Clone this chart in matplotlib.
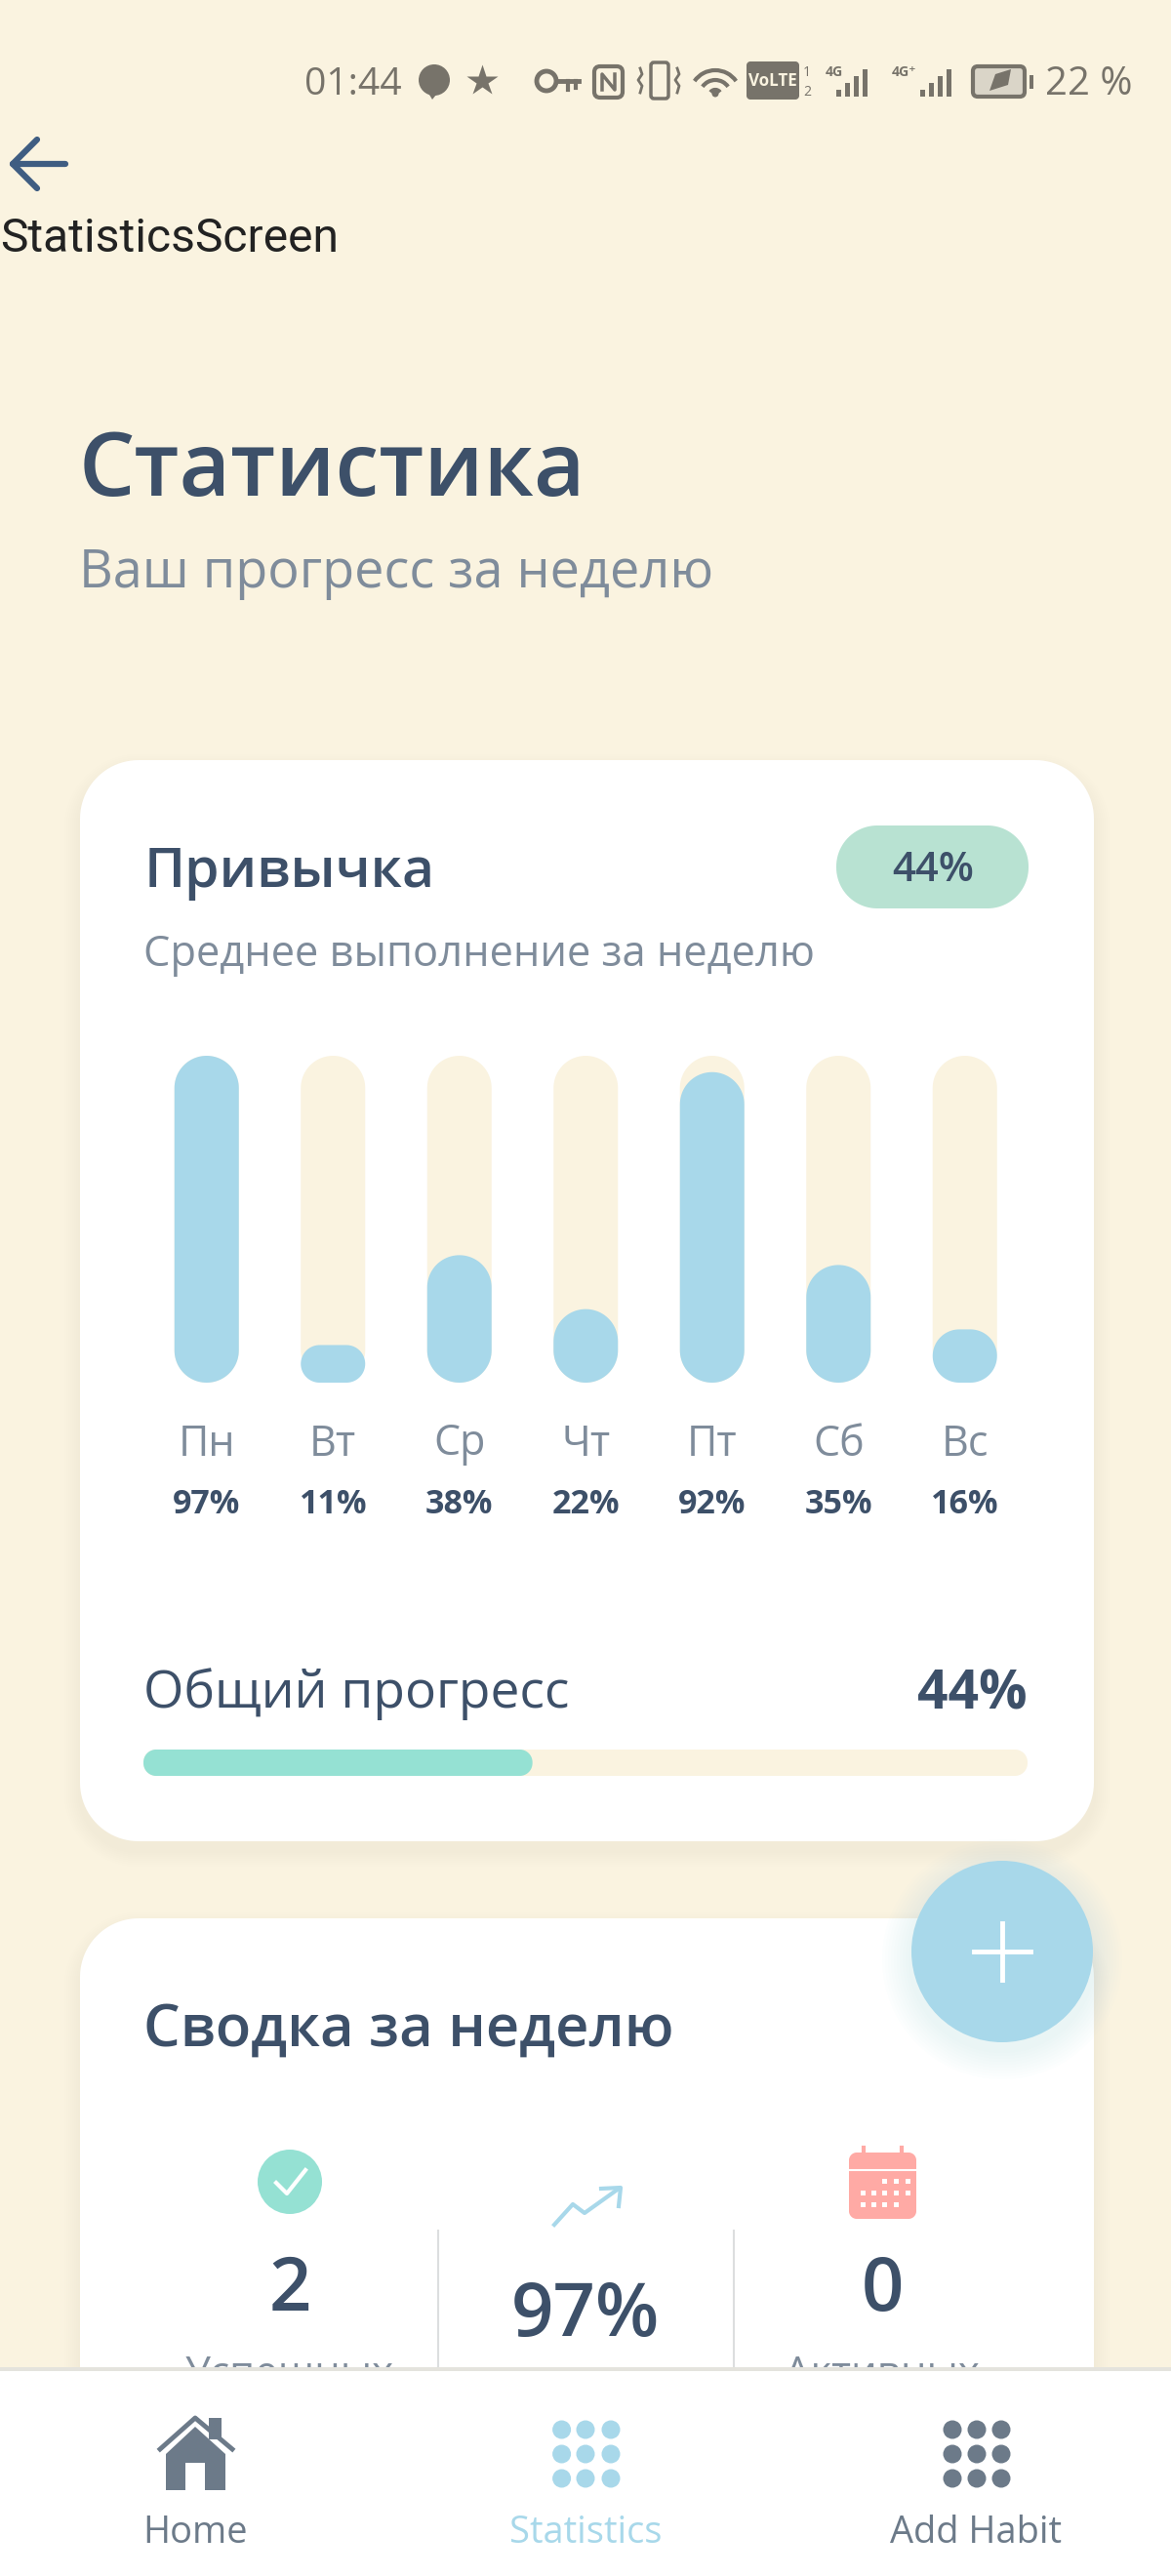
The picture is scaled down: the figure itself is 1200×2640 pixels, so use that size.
import matplotlib
matplotlib.use('Agg')
import matplotlib.pyplot as plt
import numpy as np
from matplotlib.patches import FancyBboxPatch, Circle, Rectangle, Polygon, Arc

# chart values
days = ['Пн', 'Вт', 'Ср', 'Чт', 'Пт', 'Сб', 'Вс']
day_labels = [97, 11, 38, 22, 92, 35, 16]
bar_heights = [100, 11.5, 39, 22.5, 95, 36, 16.3]  # the app scales the fill a bit, so these are measured
overall = 44
summary_values = ['2', '97%', '0']
summary_names = ['Успешных', '', 'Активных']
nav_names = ['Home', 'Statistics', 'Add Habit']

BG = '#FAF3E0'
BLUE = '#A8D8EA'
MINT = '#95E1D3'
PILL = '#B8E2D2'
DARK = '#3D5069'
GREY = '#7F8C9B'
ICON = '#6C7A89'
STATUS = '#77736A'
CORAL = '#FFAAA5'
W, H = 1200, 2640

plt.rcParams['font.family'] = ['Open Sans', 'DejaVu Sans']

fig = plt.figure(figsize=(12, 26.4), dpi=100, facecolor=BG)
ax = fig.add_axes([0, 0, 1, 1])
ax.set_xlim(0, W)
ax.set_ylim(H, 0)
ax.axis('off')


def px(size):
    return size * 0.72


# true circular corners, FancyBboxPatch's round style looks too square on the pills
def rbox(a, x0, y0, x1, y1, r, color, z=2, alpha=1, aspect=1):
    t = np.linspace(0, np.pi / 2, 24)
    ry = r * aspect
    xs = np.concatenate([x1 - r + r * np.cos(t), x0 + r - r * np.sin(t), x0 + r - r * np.cos(t), x1 - r + r * np.sin(t)])
    ys = np.concatenate([y1 - ry + ry * np.sin(t), y1 - ry + ry * np.cos(t), y0 + ry - ry * np.sin(t), y0 + ry - ry * np.cos(t)])
    p = Polygon(np.column_stack([xs, ys]), closed=True, fc=color, ec='none', alpha=alpha, zorder=z, clip_on=False)
    a.add_patch(p)
    return p


def label(x, y, s, size, color=DARK, weight='normal', ha='left', va='baseline', z=5):
    return ax.text(x, y, s, fontsize=px(size), color=color, fontweight=weight, ha=ha, va=va, zorder=z)


# status bar
label(312, 97, '01:44', 39, STATUS)
label(1071, 97, '22 %', 40, STATUS)
ax.add_patch(Circle((445, 82), 16, fc=STATUS, ec='none'))
ax.add_patch(Polygon([[437, 92], [451, 92], [443, 102]], fc=STATUS, ec='none'))
ax.plot([494], [83], marker='*', ms=24, color=STATUS, mec='none')
ax.add_patch(Circle((560, 83), 10, fc='none', ec=STATUS, lw=3.5))
ax.plot([570, 593], [83, 83], color=STATUS, lw=3.5)
ax.plot([582, 582], [83, 92], color=STATUS, lw=3)
ax.plot([590, 590], [83, 90], color=STATUS, lw=3)
ax.add_patch(FancyBboxPatch((609, 68), 29, 32, boxstyle='round,pad=0,rounding_size=6', fc='none', ec=STATUS, lw=3))
ax.plot([617, 617, 630, 630], [92, 76, 92, 76], color=STATUS, lw=2.5)
ax.add_patch(FancyBboxPatch((667, 64), 18, 37, boxstyle='round,pad=0,rounding_size=3', fc='none', ec=STATUS, lw=2.5))
for xv in (656, 694):
    ax.plot([xv, xv + 2, xv - 2, xv + 2, xv], [70, 76, 82, 88, 95], color=STATUS, lw=2)
for r in (8, 18, 28):
    ax.add_patch(Arc((733, 98), r * 2 - 4, r * 2 - 4, theta1=215, theta2=325, color=STATUS, lw=3))
ax.add_patch(Circle((733, 96), 3.5, fc=STATUS, ec='none'))
rbox(ax, 765, 63, 819, 102, 4, STATUS)
ax.text(792, 83, 'VoLTE', fontsize=px(17), color=BG, fontweight='bold', ha='center', va='center', zorder=5)
label(827, 78, '1', 14, STATUS, ha='center')
label(827, 98, '2', 14, STATUS, ha='center')
label(855, 78, '4G', 14, STATUS, ha='center', weight='bold')
label(927, 78, '4G⁺', 14, STATUS, ha='center', weight='bold')
for x0 in (857, 943):
    for i, hh in enumerate((7, 14, 21, 28)):
        ax.add_patch(Rectangle((x0 + i * 9, 99 - hh), 5, hh, fc=STATUS, ec='none'))
ax.add_patch(FancyBboxPatch((997, 68), 53, 31, boxstyle='round,pad=0,rounding_size=5', fc='#DAD5C8', ec=STATUS, lw=3))
ax.add_patch(Rectangle((1055, 77), 4, 14, fc=STATUS, ec='none'))
ax.add_patch(Polygon([[1014, 93], [1020, 76], [1036, 71], [1033, 87]], fc=STATUS, ec='none'))

# back arrow and screen name
ax.plot([38, 13, 38], [143, 168, 193], color='#3F5D82', lw=4.5, solid_capstyle='round', solid_joinstyle='round')
ax.plot([13, 67], [168, 168], color='#3F5D82', lw=4.5, solid_capstyle='round')
ax.text(0, 258, 'StatisticsScreen', fontsize=px(48), color='#222222', family='Roboto', zorder=5)

# header
label(81, 508, 'Статистика', 90.5, DARK, 'semibold')
label(81, 602, 'Ваш прогресс за неделю', 54, GREY)

# cards, stacked translucent boxes make the soft shadow
for top, bottom in ((779, 1887), (1966, 2700)):
    for s in range(16, 0, -2):
        rbox(ax, 82 - s, top - s + 10, 1121 + s, bottom + s + 10, 60 + s, '#DDE3D4', z=1, alpha=0.03)
    rbox(ax, 82, top, 1121, bottom, 60, 'white')

label(148, 909, 'Привычка', 57, DARK, 'semibold')
rbox(ax, 857, 846, 1054, 931, 42, PILL, z=3)
label(956, 903, '%d%%' % overall, 42, DARK, 'semibold', ha='center')
label(147, 990, 'Среднее выполнение за неделю', 43.5, GREY)

# weekly bars
bars = fig.add_axes([147 / W, 1 - 1417 / H, 906.5 / W, 335 / H], zorder=2)
bars.patch.set_visible(False)
bars.set_frame_on(False)
bars.set_xlim(-0.5, 6.5)
bars.set_ylim(0, 100)
bars.set_yticks([])
bars.set_xticks(range(len(days)), days, fontsize=px(43), color=GREY)
bars.tick_params(axis='x', length=0, pad=px(41))
unit_x = 906.5 / 7
unit_y = 335 / 100
bar_w = 66 / unit_x
for i, v in enumerate(bar_heights):
    rbox(bars, i - bar_w / 2, 0, i + bar_w / 2, 100, bar_w / 2, BG, z=2, aspect=unit_x / unit_y)
    r = min(33, v * unit_y / 2) / unit_x
    rbox(bars, i - bar_w / 2, 0, i + bar_w / 2, v, r, BLUE, z=3, aspect=unit_x / unit_y)
    bars.annotate('%d%%' % day_labels[i], (i, 0), xytext=(0, -px(134)), textcoords='offset points', ha='center',
                  va='baseline', fontsize=px(34), color=DARK, fontweight='bold', annotation_clip=False)

# overall progress
label(147, 1750, 'Общий прогресс', 53.2, DARK)
label(1053, 1751, '%d%%' % overall, 55, DARK, 'bold', ha='right')
prog = fig.add_axes([147 / W, 1 - 1820 / H, 906 / W, 27 / H], zorder=2)
prog.patch.set_visible(False)
prog.axis('off')
prog.set_xlim(0, 100)
prog.set_ylim(0, 1)
rbox(prog, 0, 0, 100, 1, 13 / 9.06, BG, aspect=9.06 / 27)
rbox(prog, 0, 0, overall, 1, 13 / 9.06, MINT, z=3, aspect=9.06 / 27)

# floating button
for s in range(30, 0, -3):
    ax.add_patch(Circle((1027, 2008), 93 + s, fc=BLUE, ec='none', alpha=0.025, zorder=6))
ax.add_patch(Circle((1027, 2000), 93, fc=BLUE, ec='none', zorder=7))
ax.plot([998, 1056], [2000, 2000], color='white', lw=3.5, zorder=8)
ax.plot([1027, 1027], [1971, 2029], color='white', lw=3.5, zorder=8)

# weekly summary
label(147, 2097, 'Сводка за неделю', 59.7, DARK, 'semibold')
ax.add_patch(Circle((297, 2236), 33, fc=MINT, ec='none', zorder=3))
ax.plot([283, 294, 313], [2237, 2248, 2224], color='white', lw=3, zorder=4)
ax.plot([568, 587, 599, 634], [2280, 2259, 2268, 2243], color=BLUE, lw=3, zorder=4)
ax.plot([616, 636, 634], [2243, 2242, 2261], color=BLUE, lw=3, zorder=4)
rbox(ax, 870, 2206, 939, 2274, 8, CORAL, z=3)
ax.plot([870, 939], [2224, 2224], color='white', lw=1.5, zorder=4)
for xv in (885, 924):
    ax.plot([xv, xv], [2201, 2211], color=CORAL, lw=3, zorder=3)
for row, cols in ((2235, (906, 918, 930)), (2247, (884, 895, 906, 918, 930)), (2259, (884, 895, 906, 918))):
    for xv in cols:
        ax.add_patch(Rectangle((xv - 2.5, row - 2.5), 5, 5, fc='white', ec='none', zorder=4))
for x0 in (449, 752):
    ax.plot([x0, x0], [2286, 2428], color='#DCDEDF', lw=1.5, zorder=3)
for xv, yv, v, n in zip((297, 600, 904), (2368, 2394, 2368), summary_values, summary_names):
    label(xv, yv, v, 76, DARK, 'semibold', ha='center')
    if n:
        label(xv, 2445, n, 42, GREY, ha='center', z=3)

# bottom navigation
ax.add_patch(Rectangle((0, 2426), W, 4, fc='#E4E3DD', ec='none', zorder=9))
ax.add_patch(Rectangle((0, 2430), W, 210, fc='white', ec='none', zorder=10))
ax.add_patch(Polygon([[170, 2515], [170, 2552], [190, 2552], [190, 2524], [210, 2524], [210, 2552], [231, 2552],
                      [231, 2515], [200, 2487]], fc=ICON, ec='none', zorder=11))
ax.plot([164, 200, 238], [2510, 2478, 2510], color=ICON, lw=3.5, zorder=11)
ax.add_patch(Rectangle((214, 2478), 13, 22, fc=ICON, ec='none', zorder=11))
for xs, col in (((575.6, 600, 626), BLUE), ((976, 1001, 1026), ICON)):
    for yv in (2490, 2515, 2540):
        for xv in xs:
            ax.add_patch(Circle((xv, yv), 9.5, fc=col, ec='none', zorder=11))
for xv, name, col in zip((200, 600, 1000), nav_names, (ICON, BLUE, ICON)):
    label(xv, 2606, name, 38, col, 'medium', ha='center', z=11)

fig.savefig('out.png', dpi=100, facecolor=BG)
